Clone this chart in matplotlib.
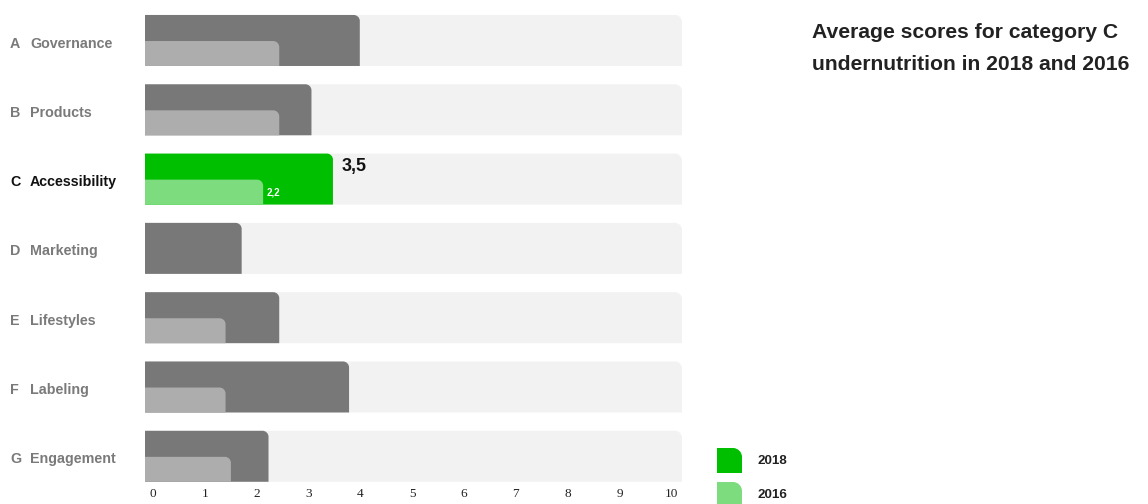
import matplotlib
matplotlib.use("Agg")
import matplotlib.pyplot as plt
from matplotlib.path import Path
from matplotlib.patches import PathPatch

letters = ["A", "B", "C", "D", "E", "F", "G"]
categories = ["Governance", "Products", "Accessibility", "Marketing",
              "Lifestyles", "Labeling", "Engagement"]
scores_2018 = [4.0, 3.1, 3.5, 1.8, 2.5, 3.8, 2.3]
scores_2016 = [2.5, 2.5, 2.2, None, 1.5, 1.5, 1.6]
highlight = "C"
x_max = 10
tick_labels = [str(i) for i in range(11)]
years = ["2018", "2016"]

dark_grey = "#787878"
light_grey = "#adadad"
track = "#f2f2f2"
green = "#00bf00"
light_green = "#7ddc7d"
font = ["Liberation Sans", "DejaVu Sans"]

W, H = 1148, 504
fig = plt.figure(figsize=(W / 100, H / 100), dpi=100)
ax = fig.add_axes([145 / W, 20 / H, 537 / W, 484 / H])
ax.set_xlim(0, x_max)
ax.set_ylim(-6.4, 0.584)
for s in ax.spines.values():
    s.set_visible(False)

bb = ax.get_window_extent()
sx = bb.width / x_max
sy = bb.height / (0.584 + 6.4)


def rounded_bar(a, x0, y0, w, h, r, color, z):
    # rectangle with only the top-right corner rounded, r in pixels
    rx = min(r / sx, w)
    ry = min(r / sy, h)
    k = 0.5523
    verts = [(x0, y0), (x0 + w, y0), (x0 + w, y0 + h - ry),
             (x0 + w, y0 + h - (1 - k) * ry), (x0 + w - (1 - k) * rx, y0 + h),
             (x0 + w - rx, y0 + h), (x0, y0 + h), (x0, y0)]
    codes = [Path.MOVETO, Path.LINETO, Path.LINETO, Path.CURVE4, Path.CURVE4,
             Path.CURVE4, Path.LINETO, Path.CLOSEPOLY]
    a.add_patch(PathPatch(Path(verts, codes), facecolor=color, edgecolor="none", zorder=z))


half = 0.368
low_h = 0.36
for i, (let, cat, v18, v16) in enumerate(zip(letters, categories, scores_2018, scores_2016)):
    y = -i
    hl = let == highlight
    rounded_bar(ax, 0, y - half, x_max, 2 * half, 7, track, 1)
    rounded_bar(ax, 0, y - half, v18, 2 * half, 6, green if hl else dark_grey, 2)
    if v16 is not None:
        rounded_bar(ax, 0, y - half, v16, low_h, 6, light_green if hl else light_grey, 3)
    col = "#111111" if hl else "#7a7a7a"
    ypix = 1 - (40.5 + 69.3 * i + 3) / H
    fig.text(10 / W, ypix, let, color=col, fontsize=10.3, fontweight="bold",
             family=font, va="center", ha="left")
    fig.text(30 / W, ypix, cat, color=col, fontsize=10.3, fontweight="bold",
             family=font, va="center", ha="left")
    if hl:
        ax.text(v18 + 0.17, y + half - 0.06, f"{v18:.1f}".replace(".", ","),
                fontsize=13, fontweight="bold", family=font, color="#111111",
                va="top", ha="left", zorder=5)
        ax.text(v16 + 0.06, y - half + low_h / 2, f"{v16:.1f}".replace(".", ","),
                fontsize=7, fontweight="bold", family=font, color="white",
                va="center", ha="left", zorder=5)

ax.set_yticks([])
ax.set_xticks([0.15 + i * 0.965 for i in range(11)])
ax.set_xticklabels(tick_labels, family=["Liberation Serif"], fontsize=9.5, color="#222222")
ax.tick_params(axis="x", length=0, pad=3)

fig.text(812 / W, 1 - 33 / H, "Average scores for category C", fontsize=15.2,
         fontweight="bold", family=font, color="#222222", va="center", ha="left")
fig.text(812 / W, 1 - 64 / H, "undernutrition in 2018 and 2016", fontsize=15.2,
         fontweight="bold", family=font, color="#222222", va="center", ha="left")

# legend
lax = fig.add_axes([700 / W, 0, 120 / W, 60 / H])
lax.set_xlim(700, 820)
lax.set_ylim(0, 60)
lax.axis("off")
sx_save, sy_save = sx, sy
sx, sy = 1, 1
for j, (yr, col) in enumerate(zip(years, [green, light_green])):
    top = 56 - 34 * j
    rounded_bar(lax, 717, top - 25, 25, 25, 9, col, 2)
    lax.text(758, top - 13, yr, fontsize=9.6, fontweight="bold", family=font,
             color="#222222", va="center", ha="left")
sx, sy = sx_save, sy_save

fig.savefig("out.png", dpi=100, facecolor="white")
